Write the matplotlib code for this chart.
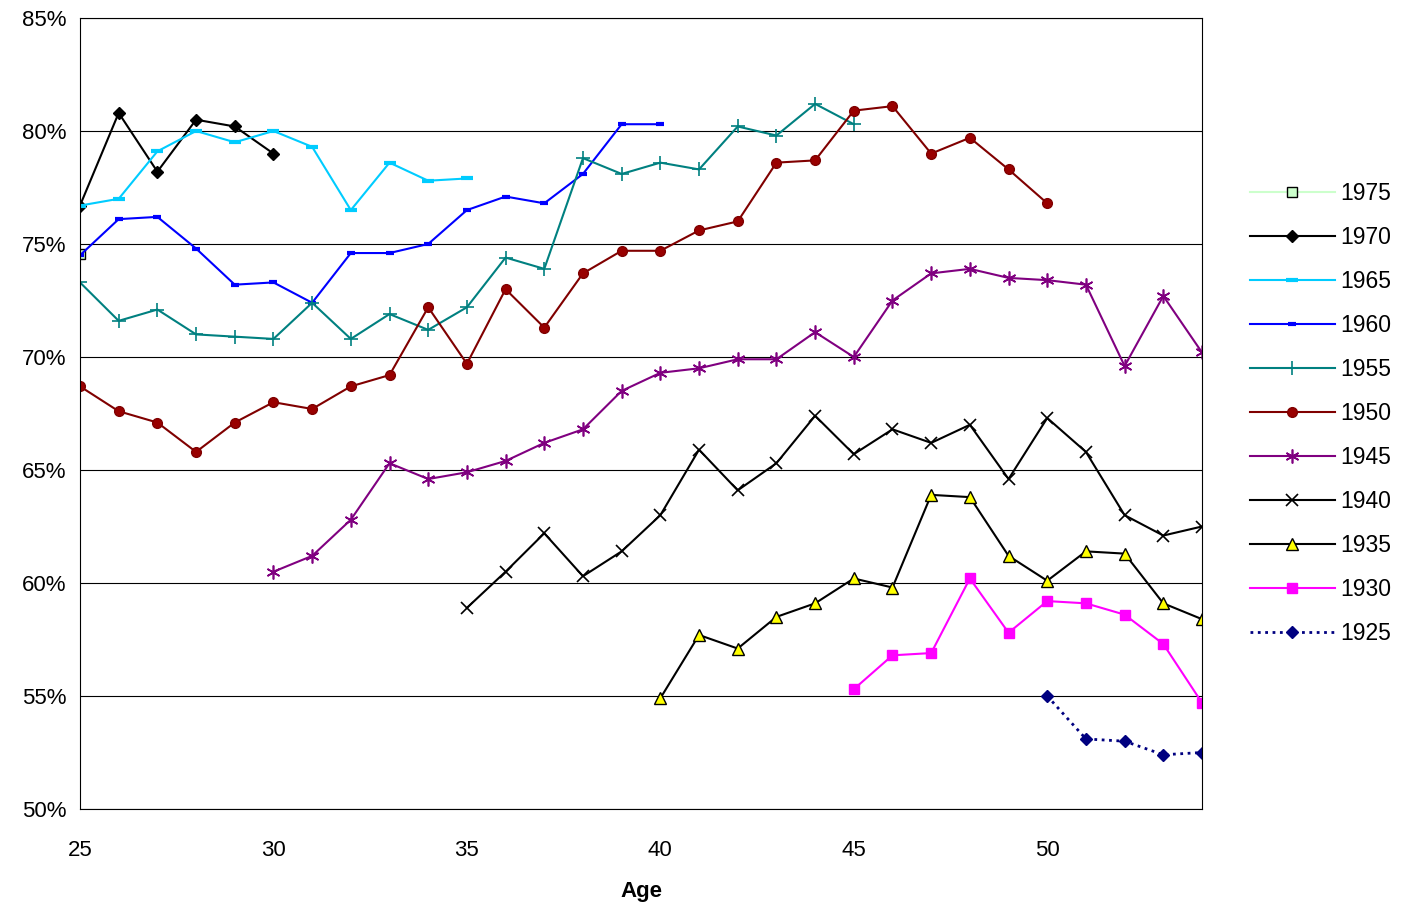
import matplotlib.pyplot as plt
from matplotlib.ticker import FuncFormatter

plt.rcParams['font.family'] = ['Liberation Sans', 'DejaVu Sans']

ages_1975 = [25]
v1975 = [74.56]
ages_1970 = list(range(25, 31))
v1970 = [76.7, 80.8, 78.2, 80.5, 80.2, 79.0]
ages_1965 = list(range(25, 36))
v1965 = [76.7, 77.0, 79.1, 80.0, 79.5, 80.0, 79.3, 76.5, 78.6, 77.8, 77.9]
ages_1960 = list(range(25, 41))
v1960 = [74.5, 76.1, 76.2, 74.8, 73.2, 73.3, 72.4, 74.6, 74.6, 75.0, 76.5, 77.1, 76.8, 78.1, 80.3, 80.3]
ages_1955 = list(range(25, 46))
v1955 = [73.3, 71.6, 72.1, 71.0, 70.9, 70.8, 72.4, 70.8, 71.9, 71.2, 72.2, 74.4, 73.9, 78.8, 78.1,
         78.6, 78.3, 80.2, 79.8, 81.2, 80.3]
ages_1950 = list(range(25, 51))
v1950 = [68.7, 67.6, 67.1, 65.8, 67.1, 68.0, 67.7, 68.7, 69.2, 72.2, 69.7, 73.0, 71.3, 73.7, 74.7,
         74.7, 75.6, 76.0, 78.6, 78.7, 80.9, 81.1, 79.0, 79.7, 78.3, 76.8]
ages_1945 = list(range(30, 55))
v1945 = [60.5, 61.2, 62.8, 65.3, 64.6, 64.9, 65.4, 66.2, 66.8, 68.5, 69.3, 69.5, 69.9, 69.9, 71.1,
         70.0, 72.5, 73.7, 73.9, 73.5, 73.4, 73.2, 69.6, 72.7, 70.2]
ages_1940 = list(range(35, 55))
v1940 = [58.9, 60.5, 62.2, 60.3, 61.4, 63.0, 65.9, 64.1, 65.3, 67.4, 65.7, 66.8, 66.2, 67.0, 64.6,
         67.3, 65.8, 63.0, 62.1, 62.5]
ages_1935 = list(range(40, 55))
v1935 = [54.9, 57.7, 57.1, 58.5, 59.1, 60.2, 59.8, 63.9, 63.8, 61.2, 60.1, 61.4, 61.3, 59.1, 58.4]
ages_1930 = list(range(45, 55))
v1930 = [55.3, 56.8, 56.9, 60.2, 57.8, 59.2, 59.1, 58.6, 57.3, 54.7]
ages_1925 = list(range(50, 55))
v1925 = [55.0, 53.1, 53.0, 52.4, 52.5]

fig = plt.figure(figsize=(14.12, 9.11), dpi=100)
ax = fig.add_axes([80 / 1412, 1 - 809 / 911, 1122 / 1412, 791 / 911])

ax.plot(ages_1975, v1975, color='#ccffcc', marker='s', mfc='#ccffcc', mec='black', ms=7, label='1975')
ax.plot(ages_1970, v1970, color='black', marker='D', ms=6, label='1970')
ax.plot(ages_1965, v1965, color='#00ccff', marker='_', ms=8, mew=3, label='1965')
ax.plot(ages_1960, v1960, color='#0000ff', marker='_', ms=6, mew=3, label='1960')
ax.plot(ages_1955, v1955, color='#008080', marker='+', ms=10, mew=1.2, label='1955')
ax.plot(ages_1950, v1950, color='#800000', marker='o', mfc='#990000', ms=7, label='1950')
ax.plot(ages_1945, v1945, color='#800080', marker=(6, 2, 0), ms=10, mew=1.2, label='1945')
ax.plot(ages_1940, v1940, color='black', marker='x', ms=9, mew=1.2, label='1940')
ax.plot(ages_1935, v1935, color='black', marker='^', mfc='#ffff00', mec='black', ms=8, label='1935')
ax.plot(ages_1930, v1930, color='#ff00ff', marker='s', ms=7, label='1930')
ax.plot(ages_1925, v1925, color='#000080', ls=':', lw=2, marker='D', ms=6, label='1925')

ax.set_xlim(25, 54)
ax.set_ylim(50, 85)
ax.set_xticks([25, 30, 35, 40, 45, 50])
ax.set_yticks(range(50, 86, 5))
ax.yaxis.set_major_formatter(FuncFormatter(lambda v, p: f'{v:.0f}%'))
ax.grid(axis='y', color='black', lw=0.8)
ax.set_axisbelow(True)
ax.tick_params(labelsize=16, direction='in', length=0)
ax.tick_params(axis='x', pad=22)
ax.tick_params(axis='y', pad=10)
ax.set_xlabel('Age', fontsize=16, fontweight='bold', labelpad=15)
for s in ax.spines.values():
    s.set_color('black')

ax.legend(loc='center left', bbox_to_anchor=((1250 - 80) / 1122, 0.5), frameon=False, fontsize=16.5,
          handlelength=3.7, labelspacing=0.92, handletextpad=0.25, borderpad=0, borderaxespad=0)

fig.savefig('out.png', dpi=100)
